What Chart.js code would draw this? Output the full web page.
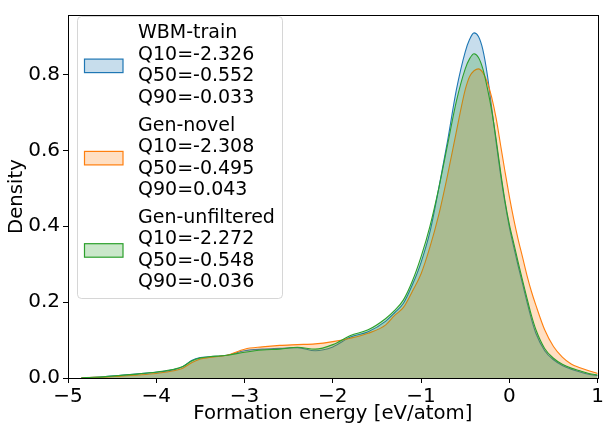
<!DOCTYPE html>
<html>
<head>
<meta charset="utf-8">
<script src="https://cdn.jsdelivr.net/npm/chart.js@4/dist/chart.umd.min.js"></script>
<style>
  html, body { margin: 0; padding: 0; background: #fff; }
  #wrap { position: relative; width: 606px; height: 425px; }
</style>
</head>
<body>
<div id="wrap"><canvas id="c" width="606" height="425"></canvas></div>
<script>
// ---- data ----
const xGrid = [-4.85, -4.8, -4.6, -4.4, -4.2, -4.0, -3.8, -3.7, -3.6, -3.5, -3.4, -3.2, -3.0, -2.8, -2.6, -2.4, -2.2, -2.0, -1.8, -1.6, -1.4, -1.3, -1.2, -1.1, -1.0, -0.9, -0.8, -0.7, -0.6, -0.5, -0.45, -0.4, -0.35, -0.3, -0.25, -0.2, -0.15, -0.1, -0.05, 0.0, 0.05, 0.1, 0.15, 0.2, 0.25, 0.3, 0.4, 0.5, 0.6, 0.7, 0.8, 0.9, 1.0];

const wbmTrain = [0.000, 0.001, 0.003, 0.007, 0.011, 0.015, 0.022, 0.030, 0.046, 0.054, 0.056, 0.060, 0.072, 0.076, 0.078, 0.080, 0.072, 0.082, 0.108, 0.122, 0.150, 0.172, 0.197, 0.245, 0.305, 0.385, 0.500, 0.625, 0.760, 0.860, 0.893, 0.910, 0.900, 0.865, 0.800, 0.712, 0.622, 0.537, 0.462, 0.398, 0.345, 0.295, 0.248, 0.200, 0.155, 0.118, 0.072, 0.048, 0.033, 0.023, 0.016, 0.010, 0.006];

const genNovel = [0.000, 0.001, 0.002, 0.005, 0.008, 0.012, 0.019, 0.026, 0.040, 0.050, 0.054, 0.060, 0.076, 0.082, 0.086, 0.088, 0.090, 0.096, 0.105, 0.118, 0.140, 0.165, 0.186, 0.228, 0.275, 0.345, 0.430, 0.535, 0.650, 0.760, 0.795, 0.810, 0.815, 0.805, 0.780, 0.740, 0.685, 0.615, 0.545, 0.478, 0.418, 0.365, 0.318, 0.270, 0.228, 0.192, 0.127, 0.083, 0.055, 0.037, 0.027, 0.019, 0.012];

const genUnfiltered = [0.000, 0.001, 0.003, 0.007, 0.011, 0.016, 0.023, 0.030, 0.045, 0.053, 0.056, 0.060, 0.068, 0.074, 0.076, 0.081, 0.076, 0.088, 0.112, 0.127, 0.157, 0.178, 0.206, 0.255, 0.320, 0.400, 0.500, 0.615, 0.730, 0.815, 0.842, 0.855, 0.845, 0.815, 0.765, 0.705, 0.630, 0.545, 0.468, 0.405, 0.355, 0.305, 0.257, 0.210, 0.165, 0.128, 0.078, 0.052, 0.036, 0.026, 0.019, 0.012, 0.008];

const seriesNames = ["WBM-train", "Gen-novel", "Gen-unfiltered"];
const q10 = ["-2.326", "-2.308", "-2.272"];
const q50 = ["-0.552", "-0.495", "-0.548"];
const q90 = ["-0.033", "0.043", "-0.036"];
const xTickValues = [-5, -4, -3, -2, -1, 0, 1];
const yTickValues = [0.0, 0.2, 0.4, 0.6, 0.8];

const colors = ["#1f77b4", "#ff7f0e", "#2ca02c"];
const fills = ["rgba(31,119,180,0.25)", "rgba(255,127,14,0.25)", "rgba(44,160,44,0.25)"];
const FONT = "'DejaVu Sans', sans-serif";

function pts(ys) { return xGrid.map((x, i) => ({x: x, y: ys[i]})); }
const allSeries = [wbmTrain, genNovel, genUnfiltered];

const datasets = allSeries.map((ys, i) => ({
  label: seriesNames[i],
  data: pts(ys),
  borderColor: colors[i],
  backgroundColor: fills[i],
  borderWidth: 1.1,
  fill: 'origin',
  pointRadius: 0,
  cubicInterpolationMode: 'monotone',
  order: 2 - i
}));

const frameAndLegend = {
  id: 'frameAndLegend',
  afterDraw(chart) {
    const ctx = chart.ctx;
    const a = chart.chartArea;
    ctx.save();
    ctx.strokeStyle = '#000';
    ctx.lineWidth = 1;
    ctx.strokeRect(Math.round(a.left) + 0.5, Math.round(a.top) + 0.5, Math.round(a.right - a.left), Math.round(a.bottom - a.top));

    // legend box
    const bx = 77.5, by = 16.5, bw = 205, bh = 282, r = 4;
    ctx.beginPath();
    ctx.moveTo(bx + r, by);
    ctx.arcTo(bx + bw, by, bx + bw, by + bh, r);
    ctx.arcTo(bx + bw, by + bh, bx, by + bh, r);
    ctx.arcTo(bx, by + bh, bx, by, r);
    ctx.arcTo(bx, by, bx + bw, by, r);
    ctx.closePath();
    ctx.fillStyle = 'rgba(255,255,255,0.8)';
    ctx.fill();
    ctx.strokeStyle = 'rgba(204,204,204,0.8)';
    ctx.stroke();

    ctx.font = '19px ' + FONT;
    ctx.textBaseline = 'middle';
    ctx.textAlign = 'left';
    const lineH = 21.4, groupH = 92.3, firstY = 33.5;
    for (let i = 0; i < seriesNames.length; i++) {
      const lines = [seriesNames[i], 'Q10=' + q10[i], 'Q50=' + q50[i], 'Q90=' + q90[i]];
      const gy = firstY + i * groupH;
      lines.forEach((t, k) => {
        ctx.fillStyle = '#000';
        ctx.fillText(t, 138, gy + k * lineH);
      });
      const cy = gy + 1.5 * lineH;
      ctx.fillStyle = '#fff';
      ctx.fillRect(84.5, cy - 6.5, 38.5, 13.5);
      ctx.fillStyle = fills[i];
      ctx.fillRect(84.5, cy - 6.5, 38.5, 13.5);
      ctx.strokeStyle = colors[i];
      ctx.lineWidth = 1.2;
      ctx.strokeRect(84.5, cy - 6.5, 38.5, 13.5);
    }
    ctx.restore();
  }
};

new Chart(document.getElementById('c'), {
  type: 'line',
  data: { datasets: datasets },
  options: {
    responsive: false,
    animation: false,
    devicePixelRatio: 1,
    layout: { padding: { left: 0, top: 7, right: 6, bottom: 0 } },
    plugins: { legend: { display: false }, tooltip: { enabled: false } },
    scales: {
      x: {
        type: 'linear',
        min: -5, max: 1,
        afterFit(s) { s.height = 47; },
        afterBuildTicks(s) { s.ticks = xTickValues.map(v => ({value: v})); },
        ticks: {
          color: '#000', font: { family: FONT, size: 20 }, padding: 2,
          maxRotation: 0, autoSkip: false,
          callback: v => (v < 0 ? '\u2212' + Math.abs(v) : String(v))
        },
        grid: { drawOnChartArea: false, drawTicks: true, tickLength: 5, color: '#000', tickWidth: 1 },
        border: { display: true, color: '#000', width: 1 },
        title: { display: true, text: 'Formation energy [eV/atom]', color: '#000', font: { family: FONT, size: 19.7 }, padding: { top: 0, bottom: -1 } }
      },
      y: {
        type: 'linear',
        min: 0, max: 0.957,
        afterFit(s) { s.width = 68; },
        afterBuildTicks(s) { s.ticks = yTickValues.map(v => ({value: v})); },
        ticks: {
          color: '#000', font: { family: FONT, size: 20 }, padding: 3,
          autoSkip: false,
          callback: v => v.toFixed(1)
        },
        grid: { drawOnChartArea: false, drawTicks: true, tickLength: 5, color: '#000', tickWidth: 1 },
        border: { display: true, color: '#000', width: 1 },
        title: { display: true, text: 'Density', color: '#000', font: { family: FONT, size: 19.7 }, padding: { top: 5, bottom: 0 } }
      }
    }
  },
  plugins: [frameAndLegend]
});
</script>
</body>
</html>
